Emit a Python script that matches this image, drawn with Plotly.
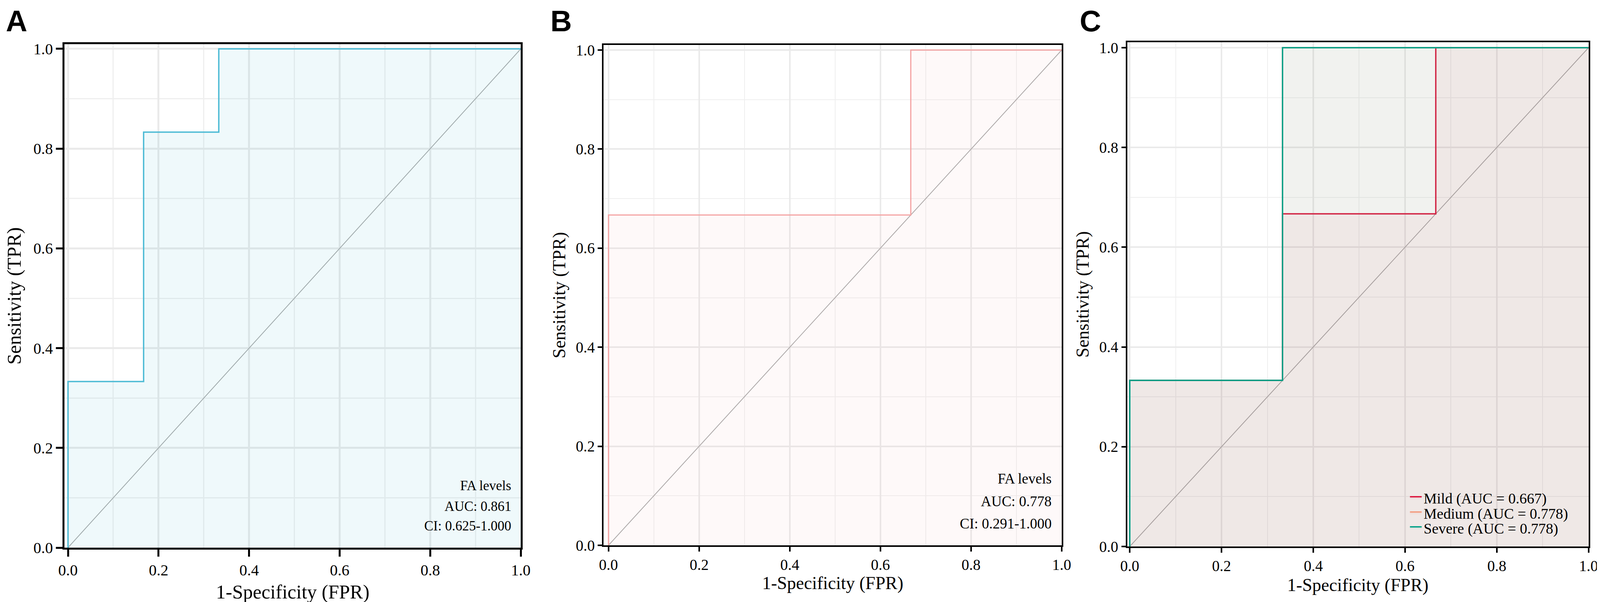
import plotly.graph_objects as go

# ============================================================
# Data: ROC step curves
# ============================================================
fpr_fa = [0.0, 0.0, 0.167, 0.167, 0.333, 0.333, 1.0]
tpr_fa = [0.0, 0.333, 0.333, 0.833, 0.833, 1.0, 1.0]
text_fa = ['FA levels', 'AUC: 0.861', 'CI: 0.625-1.000']

fpr_fb = [0.0, 0.0, 0.667, 0.667, 1.0]
tpr_fb = [0.0, 0.667, 0.667, 1.0, 1.0]
text_fb = ['FA levels', 'AUC: 0.778', 'CI: 0.291-1.000']

severity = ['Mild', 'Medium', 'Severe']
severity_auc = [0.667, 0.778, 0.778]
fpr_mild = [0.0, 0.0, 0.333, 0.333, 0.667, 0.667, 1.0]
tpr_mild = [0.0, 0.333, 0.333, 0.667, 0.667, 1.0, 1.0]
fpr_medium = [0.0, 0.0, 0.333, 0.333, 1.0]
tpr_medium = [0.0, 0.333, 0.333, 1.0, 1.0]
fpr_severe = [0.0, 0.0, 0.333, 0.333, 1.0]
tpr_severe = [0.0, 0.333, 0.333, 1.0, 1.0]

chance = [0.0, 1.0]
panel_letters = ['A', 'B', 'C']

# ============================================================
# Page geometry. Positions were measured on the 4318 px wide
# original; the browser page is 4096 px wide, so x is rescaled.
# ============================================================
REF_W = 4318
FIG_W, FIG_H = 4096, 1540
SX = FIG_W / REF_W
M_L, M_R, M_T, M_B = round(166 * SX), round(33 * SX), 100, 147
PLOT_W = FIG_W - M_L - M_R
PLOT_H = FIG_H - M_T - M_B


def px_x(ref_px):
    return (ref_px * SX - M_L) / PLOT_W


def px_y(py):
    return (FIG_H - M_B - py) / PLOT_H


SERIF = 'Liberation Serif'
DIAG_COLOR = '#A8A8A8'


def axis_style(domain, rng, anchor, title, line_w, tick_len, grid_w, minor_w,
               tick_size, title_size, standoff):
    return dict(
        domain=domain, range=rng, anchor=anchor,
        tick0=0, dtick=0.2, tickformat='.1f',
        showline=True, mirror=True, linecolor='black', linewidth=line_w,
        ticks='outside', ticklen=tick_len, tickwidth=line_w, tickcolor='black',
        showgrid=True, gridcolor='#EAEAEA', gridwidth=grid_w, zeroline=False,
        minor=dict(tick0=0, dtick=0.1, showgrid=True,
                   gridcolor='#EFEFEF', gridwidth=minor_w),
        tickfont=dict(family=SERIF, size=tick_size, color='black'),
        title=dict(text=title, standoff=standoff,
                   font=dict(family=SERIF, size=title_size, color='black')),
        fixedrange=True,
    )


fig = go.Figure()


def add_diag(xa, ya):
    fig.add_trace(go.Scatter(
        x=chance, y=chance, mode='lines', xaxis=xa, yaxis=ya,
        line=dict(color=DIAG_COLOR, width=2), showlegend=False, hoverinfo='skip',
    ))


# ---------------- Panel A ----------------
add_diag('x', 'y')
fig.add_trace(go.Scatter(
    x=fpr_fa, y=tpr_fa, mode='lines', xaxis='x', yaxis='y',
    line=dict(color='#4DBBD5', width=3.5),
    fill='tozeroy', fillcolor='rgba(77,187,213,0.09)',
    name='FA levels', showlegend=False,
))

# ---------------- Panel B ----------------
add_diag('x2', 'y2')
fig.add_trace(go.Scatter(
    x=fpr_fb, y=tpr_fb, mode='lines', xaxis='x2', yaxis='y2',
    line=dict(color='#F4A3A3', width=3),
    fill='tozeroy', fillcolor='rgba(244,163,163,0.07)',
    name='FA levels', showlegend=False,
))

# ---------------- Panel C ----------------
add_diag('x3', 'y3')
sev_x = [fpr_mild, fpr_medium, fpr_severe]
sev_y = [tpr_mild, tpr_medium, tpr_severe]
sev_color = ['#DC143C', '#F39B7F', '#00A087']
sev_fill = ['rgba(220,20,60,0.05)', 'rgba(243,155,127,0.08)', 'rgba(0,160,135,0.05)']
sev_legend = ['legend', 'legend2', 'legend3']
for name, auc, xs, ys, col, fcol, lg in zip(severity, severity_auc, sev_x, sev_y,
                                            sev_color, sev_fill, sev_legend):
    fig.add_trace(go.Scatter(
        x=xs, y=ys, mode='lines', xaxis='x3', yaxis='y3',
        line=dict(color=col, width=3.5),
        fill='tozeroy', fillcolor=fcol,
        name=f'{name} (AUC = {auc:.3f})', legend=lg,
    ))

# ============================================================
# Axes
# ============================================================
fig.update_layout(
    xaxis=axis_style([px_x(166), px_x(1399)], [-0.0074, 1.0], 'y',
                     '1-Specificity (FPR)', 5, 18, 5, 2.5, 40, 50, 17),
    yaxis=axis_style([px_y(1393), px_y(105)], [0, 1.0094], 'x',
                     'Sensitivity (TPR)', 5, 17, 5, 2.5, 40, 50, 24),
    xaxis2=axis_style([px_x(1623), px_x(2861)], [-0.0106, 1.0], 'y2',
                      '1-Specificity (FPR)', 4, 12, 4, 2, 39, 46, 10),
    yaxis2=axis_style([px_y(1387), px_y(107)], [0, 1.0103], 'x2',
                      'Sensitivity (TPR)', 4, 11, 4, 2, 39, 46, 13),
    xaxis3=axis_style([px_x(3038), px_x(4285)], [-0.0056, 1.0], 'y3',
                      '1-Specificity (FPR)', 4, 12, 4, 2, 39, 46, 13),
    yaxis3=axis_style([px_y(1390), px_y(100)], [0, 1.011], 'x3',
                      'Sensitivity (TPR)', 4, 11, 4, 2, 39, 46, 13),
)

# ============================================================
# Legends (one per entry so the rows sit tight like the original)
# ============================================================
legend_rows_px = [1265, 1304, 1342]
for lg, row in zip(sev_legend, legend_rows_px):
    fig.update_layout({lg: dict(
        x=px_x(3797), y=px_y(row), xanchor='left', yanchor='middle',
        bgcolor='rgba(0,0,0,0)', borderwidth=0,
        font=dict(family=SERIF, size=38, color='black'),
    )})

# ============================================================
# Text annotations
# ============================================================
annotations = []
for txt, row in zip(text_fa, [1234, 1287, 1337]):
    annotations.append(dict(
        text=txt, x=px_x(1376), y=px_y(row), xref='paper', yref='paper',
        xanchor='right', yanchor='middle', showarrow=False,
        font=dict(family=SERIF, size=35, color='black'),
    ))
for txt, row in zip(text_fb, [1216, 1274, 1331]):
    annotations.append(dict(
        text=txt, x=px_x(2836), y=px_y(row), xref='paper', yref='paper',
        xanchor='right', yanchor='middle', showarrow=False,
        font=dict(family=SERIF, size=37, color='black'),
    ))
for letter, left in zip(panel_letters, [5, 1477, 2908]):
    annotations.append(dict(
        text=f'<b>{letter}</b>', x=px_x(left), y=px_y(45), xref='paper', yref='paper',
        xanchor='left', yanchor='middle', showarrow=False,
        font=dict(family='Liberation Sans', size=76, color='black'),
    ))

fig.update_layout(
    annotations=annotations,
    width=FIG_W, height=FIG_H,
    margin=dict(l=M_L, r=M_R, t=M_T, b=M_B, pad=0),
    plot_bgcolor='white', paper_bgcolor='white',
    showlegend=True,
)

fig.write_html('out.html')
